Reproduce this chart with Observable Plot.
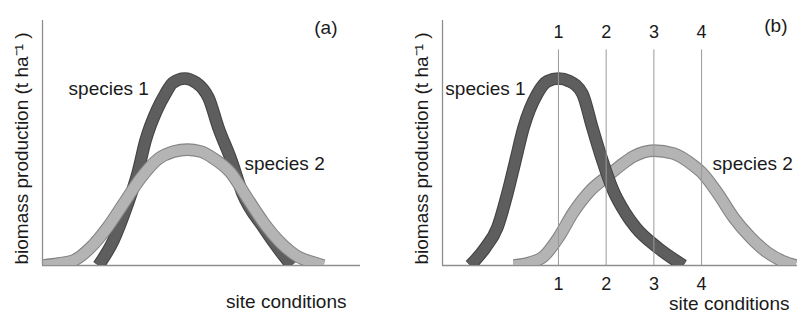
<!DOCTYPE html>
<html><head><meta charset="utf-8">
<script src="https://cdn.jsdelivr.net/npm/d3@7"></script>
<script src="https://cdn.jsdelivr.net/npm/@observablehq/plot@0.6"></script>
<style>
body{margin:0;background:#fff;}
#wrap{display:flex;width:806px;height:316px;overflow:hidden;}
</style></head><body><div id="wrap"></div>
<script>
// ---- text ----
const yLabel = "biomass production (t ha⁻¹ )";
const xLabel = "site conditions";
const speciesNames = ["species 1", "species 2"];
const panelTags = ["(a)", "(b)"];
const siteTicks = [1, 2, 3, 4];

// ---- panel (a): biomass vs site conditions (arbitrary units) ----
const a1X = [1.76, 2.23, 2.64, 2.99, 3.24, 3.60, 3.87, 4.09, 4.47, 4.84, 5.05, 5.22, 5.53, 5.94, 6.29, 6.95, 7.39, 7.83];
const a1Y = [0, 1.02, 2.37, 3.76, 5.10, 6.35, 7.02, 7.45, 7.63, 7.45, 7.20, 6.85, 5.63, 4.29, 2.94, 1.55, 0.73, 0];
const a2X = [0.03, 0.50, 0.97, 1.51, 2.04, 2.55, 3.08, 3.62, 4.12, 4.56, 4.97, 5.38, 5.91, 6.45, 6.95, 7.48, 8.02, 8.52, 8.84];
const a2Y = [0, 0.08, 0.20, 0.73, 1.55, 2.53, 3.55, 4.33, 4.65, 4.73, 4.65, 4.37, 3.80, 2.73, 1.76, 0.94, 0.37, 0.12, 0];

// ---- panel (b) ----
const b1X = [-0.85, -0.53, -0.28, -0.07, 0.10, 0.27, 0.56, 0.77, 1.0, 1.23, 1.50, 1.71, 1.92, 2.15, 2.40, 2.62, 3.10, 3.62];
const b1Y = [0, 0.73, 1.55, 2.94, 4.29, 5.63, 7.02, 7.52, 7.63, 7.52, 7.02, 5.63, 4.29, 3.05, 2.15, 1.55, 0.70, 0];
const b2X = [0.06, 0.41, 0.69, 1.0, 1.31, 1.67, 2.03, 2.30, 2.57, 3.0, 3.41, 3.83, 4.0, 4.34, 4.67, 5.03, 5.38, 5.72, 5.97];
const b2Y = [0, 0.12, 0.37, 1.14, 2.16, 3.06, 3.65, 4.08, 4.45, 4.69, 4.57, 4.08, 3.80, 2.94, 1.96, 1.14, 0.53, 0.16, 0];

// label anchor points (data units)
const aLabelX = [0.82, 6.35], aLabelY = [6.94, 3.88];
const bLabelX = [-1.37, 4.23], bLabelY = [6.94, 3.88];

const toRows = (xs, ys) => xs.map((x, i) => ({x, y: ys[i]}));

const fills = ["#5e5e5e", "#b4b4b4"];
const edges = ["#444444", "#858585"];
const axisColor = "#8e8e8e";
const font = "'Liberation Sans', Arial, Helvetica, sans-serif";

function curve(rows, k) {
  return [
    Plot.line(rows, {x: "x", y: "y", curve: "monotone-x", stroke: edges[k], strokeWidth: 12.6, strokeLinecap: "butt", clip: true}),
    Plot.line(rows, {x: "x", y: "y", curve: "monotone-x", stroke: fills[k], strokeWidth: 10.4, strokeLinecap: "butt", clip: true})
  ];
}

function panel({width, marginRight, xDomain, s1, s2, labX, labY, tag, tagDx, tagDy, xlDx, xlDy, order, ticks}) {
  const labels = speciesNames.map((t, i) => ({t, x: labX[i], y: labY[i]}));
  const curves = order === "light-top" ? [...curve(s1, 0), ...curve(s2, 1)] : [...curve(s2, 1), ...curve(s1, 0)];
  const marks = [
    Plot.ruleY([0], {stroke: axisColor, strokeWidth: 1.3}),
    Plot.ruleX([xDomain[0]], {stroke: axisColor, strokeWidth: 1.3}),
    ...curves
  ];
  if (ticks) {
    marks.push(
      Plot.ruleX(ticks, {x: d => d, y1: 0, y2: 8.8, stroke: "#9a9a9a", strokeWidth: 1}),
      Plot.text(ticks, {x: d => d, text: d => String(d), frameAnchor: "top", dy: 11.5, lineAnchor: "middle", fontSize: 18}),
      Plot.text(ticks, {x: d => d, text: d => String(d), frameAnchor: "bottom", dy: 12, lineAnchor: "top", fontSize: 18})
    );
  }
  marks.push(
    Plot.text(labels, {x: "x", y: "y", text: "t", textAnchor: "start", lineAnchor: "bottom"}),
    Plot.text([xLabel], {text: d => d, frameAnchor: "bottom-right", dx: xlDx, dy: xlDy, textAnchor: "end", lineAnchor: "bottom"}),
    Plot.text([yLabel], {text: d => d, frameAnchor: "left", dx: -15, dy: 5.5, rotate: -90, textAnchor: "middle", lineAnchor: "bottom"}),
    Plot.text([tag], {text: d => d, frameAnchor: "top-right", dx: tagDx, dy: tagDy, textAnchor: "end", lineAnchor: "bottom"})
  );
  return Plot.plot({
    width, height: 316,
    marginLeft: 42, marginRight, marginTop: 20, marginBottom: 51,
    x: {domain: xDomain, axis: null},
    y: {domain: [0, 10], axis: null},
    style: {fontFamily: font, fontSize: "19px", color: "#1a1a1a", background: "white", overflow: "visible"},
    marks
  });
}

const wrap = document.getElementById("wrap");
wrap.append(panel({
  width: 400, marginRight: 40, xDomain: [0, 10],
  s1: toRows(a1X, a1Y), s2: toRows(a2X, a2Y),
  labX: aLabelX, labY: aLabelY, tag: panelTags[0], tagDx: -23, tagDy: 13,
  xlDx: -14, xlDy: 42, order: "light-top"
}));
wrap.append(panel({
  width: 406, marginRight: 9, xDomain: [-1.43, 6.01],
  s1: toRows(b1X, b1Y), s2: toRows(b2X, b2Y),
  labX: bLabelX, labY: bLabelY, tag: panelTags[1], tagDx: -10, tagDy: 11,
  xlDx: -8, xlDy: 44, order: "dark-top", ticks: siteTicks
}));
</script></body></html>
